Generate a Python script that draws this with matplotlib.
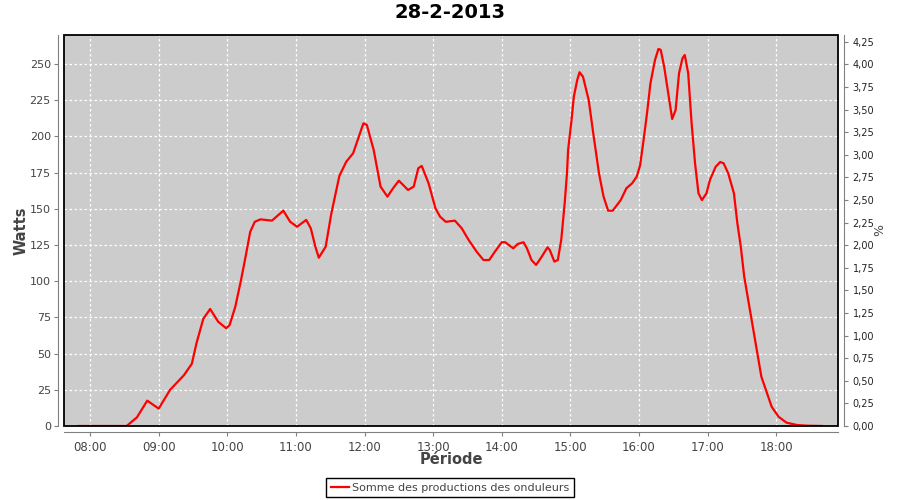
import numpy as np
import matplotlib
matplotlib.use('Agg')
import matplotlib.pyplot as plt
from matplotlib.ticker import FuncFormatter, MultipleLocator
from matplotlib.patches import Rectangle

# production relevee au fil de la journee (heure, watts)
heures = ['07:50', '08:32', '08:41', '08:50', '09:00', '09:10', '09:22', '09:29', '09:33', '09:39',
          '09:45', '09:52', '09:59', '10:02', '10:07', '10:12', '10:16', '10:20', '10:24', '10:29',
          '10:39', '10:49', '10:55', '11:01', '11:09', '11:13', '11:17', '11:20', '11:26', '11:31',
          '11:38', '11:44', '11:50', '11:55', '11:59', '12:02', '12:08', '12:14', '12:20', '12:25',
          '12:30', '12:38', '12:43', '12:47', '12:50', '12:56', '13:02', '13:06', '13:11', '13:19',
          '13:25', '13:31', '13:38', '13:44', '13:49', '13:54', '14:00', '14:03', '14:10', '14:14',
          '14:19', '14:22', '14:26', '14:30', '14:35', '14:40', '14:42', '14:46', '14:49', '14:52',
          '14:55', '14:57', '14:58', '15:01', '15:03', '15:06', '15:08', '15:11', '15:16', '15:20',
          '15:25', '15:29', '15:33', '15:37', '15:44', '15:49', '15:54', '15:58', '16:01', '16:04',
          '16:07', '16:10', '16:14', '16:17', '16:19', '16:22', '16:26', '16:29', '16:32', '16:35',
          '16:38', '16:40', '16:43', '16:46', '16:49', '16:52', '16:55', '16:59', '17:02', '17:07',
          '17:11', '17:14', '17:18', '17:23', '17:26', '17:29', '17:32', '17:35', '17:39', '17:43',
          '17:47', '17:52', '17:56', '18:02', '18:09', '18:18', '18:27', '18:40']
watts = [0, 0, 6, 17.5, 12, 25, 35, 43, 57, 74,
         80.8, 72, 67.5, 69.7, 82.4, 100.8, 117, 134, 141, 142.7,
         141.8, 148.7, 141, 137.6, 142.3, 136.5, 123.8, 116.2, 123.8, 146.9,
         172.7, 182.5, 188.3, 199.8, 209, 207.9, 190.6, 165.3, 158.4, 164.2,
         169.4, 163, 165.3, 178, 179.6, 167.6, 150.3, 144.6, 141, 141.8,
         136.5, 128.5, 120.4, 114.6, 114.6, 120.4, 126.9, 126.9, 122.7, 125.7,
         126.9, 122.7, 114.6, 111.2, 117, 123.4, 121.5, 113.5, 114.6, 128.5,
         153.8, 174.5, 190.6, 211.3, 227.4, 239, 244.3, 241.2, 225.1, 202.1,
         174.5, 158.4, 148.7, 148.7, 156, 164.2, 167.6, 172.2, 180.2, 197.5,
         216, 236.7, 252.8, 260.4, 259.7, 248.1, 227.4, 212, 218.2, 243.6,
         253.9, 256.2, 243.6, 209, 181.4, 160.7, 156, 160.7, 169.9, 179,
         182.3, 181.4, 174.5, 160.7, 140, 123.8, 103.1, 89.3, 70.9, 52.5,
         34, 22.6, 13.3, 6.4, 2.3, 0.7, 0.2, 0]

t = np.array([int(h[:2]) + int(h[3:]) / 60.0 for h in heures])

gris = '#444444'
fig = plt.figure(figsize=(9, 5), dpi=100)
ax = fig.add_axes([64/900, 74/500, 774/900, 391/500])
ax.set_facecolor('#cccccc')

ligne, = ax.plot(t, watts, color='red', lw=1.6, label='Somme des productions des onduleurs')

ax.set_xlim(7.62, 18.90)
ax.set_ylim(0, 270)
ax.xaxis.set_major_locator(MultipleLocator(1))
ax.xaxis.set_major_formatter(FuncFormatter(lambda v, p: '%02d:00' % round(v)))
ax.yaxis.set_major_locator(MultipleLocator(25))
ax.grid(True, color='white', ls=(0, (2, 2)), lw=0.9)

for s in ['left', 'bottom']:
    ax.spines[s].set_position(('outward', 4))
    ax.spines[s].set_color('#808080')
for s in ['top', 'right']:
    ax.spines[s].set_visible(False)
ax.add_patch(Rectangle((0, 0), 1, 1, transform=ax.transAxes, fill=False,
                       ec='black', lw=1.3, clip_on=False, zorder=5))
ax.tick_params(colors='#808080', labelcolor=gris, labelsize=8.5, length=3, width=0.8)
ax.tick_params(axis='y', labelsize=8, pad=2.5)

ax2 = ax.twinx()
ax2.set_ylim(0, 4.325)
ax2.yaxis.set_major_locator(MultipleLocator(0.25))
ax2.yaxis.set_major_formatter(FuncFormatter(lambda v, p: ('%.2f' % v).replace('.', ',')))
for s in ['left', 'bottom', 'top']:
    ax2.spines[s].set_visible(False)
ax2.spines['right'].set_position(('outward', 4))
ax2.spines['right'].set_color('#808080')
ax2.tick_params(colors='#808080', labelcolor='#222222', labelsize=7, length=3, width=0.8)
ax2.set_ylabel('%', fontsize=9, color=gris, labelpad=-1)

ax.set_xlabel('Période', fontsize=10.5, fontweight='bold', color=gris, labelpad=-1)
ax.set_ylabel('Watts', fontsize=10.5, fontweight='bold', color=gris, labelpad=1)
fig.suptitle('28-2-2013', fontsize=14, fontweight='bold', y=0.995)

leg = fig.legend(handles=[ligne], loc='lower center', bbox_to_anchor=(0.5, 0.006),
                 borderaxespad=0, fancybox=False, framealpha=1, edgecolor='black',
                 fontsize=8, handlelength=1.6, handletextpad=0.3, borderpad=0.4)
leg.get_frame().set_linewidth(1.0)
for txt in leg.get_texts():
    txt.set_color(gris)

fig.savefig('out.png', dpi=100)
